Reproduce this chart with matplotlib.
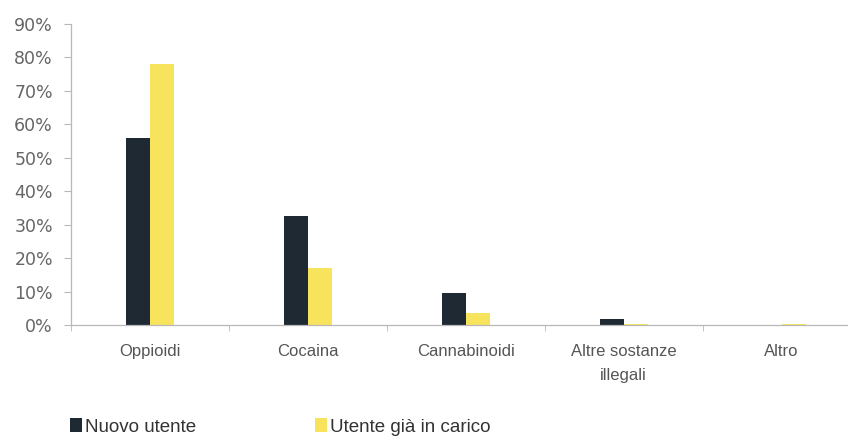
import matplotlib.pyplot as plt
import numpy as np
from matplotlib.ticker import FuncFormatter, FixedLocator

categories = ['Oppioidi', 'Cocaina', 'Cannabinoidi', 'Altre sostanze\nillegali', 'Altro']
nuovo = [0.56, 0.327, 0.097, 0.017, 0.0]
in_carico = [0.78, 0.17, 0.035, 0.003, 0.004]
series_labels = ['Nuovo utente', 'Utente già in carico']

DARK = '#1e2933'
YELLOW = '#f8e35c'


def to_percent(y, position):
    return "{:.0f}%".format(y * 100)


def main():
    plt.rcParams['font.family'] = ['Liberation Sans', 'DejaVu Sans']

    fig = plt.figure(figsize=(8.48, 4.36), dpi=100)
    ax = fig.add_axes([71 / 848, 111 / 436, 777 / 848, 301 / 436])

    x = np.arange(len(categories))
    w = 0.152
    b1 = ax.bar(x - w / 2, nuovo, w, color=DARK, label=series_labels[0])
    b2 = ax.bar(x + w / 2, in_carico, w, color=YELLOW, label=series_labels[1])

    ax.set_xlim(-0.5, 4.42)
    ax.set_ylim(0, 0.9)
    ax.yaxis.set_major_locator(FixedLocator(np.arange(0, 0.91, 0.1)))
    ax.yaxis.set_major_formatter(FuncFormatter(to_percent))
    for lbl in ax.get_yticklabels():
        lbl.set_family('DejaVu Sans')

    # category labels centred, tick marks on the boundaries
    ax.set_xticks(x)
    ax.set_xticklabels(categories, fontsize=12, color='#555555', linespacing=1.75)
    ax.tick_params(axis='x', length=0, pad=14)
    ax.set_xticks(np.arange(-0.5, 4.5, 1.0), minor=True)
    ax.tick_params(axis='x', which='minor', length=4, color='#b8b8b8')
    ax.tick_params(axis='y', length=5, color='#b8b8b8', labelsize=12.5,
                   labelcolor='#666666', pad=8)

    for side in ['top', 'right']:
        ax.spines[side].set_visible(False)
    for side in ['left', 'bottom']:
        ax.spines[side].set_color('#b8b8b8')
        ax.spines[side].set_linewidth(0.9)

    fig.legend(handles=[b1, b2], loc='center left', ncol=2,
               bbox_to_anchor=(53 / 848, 9 / 436), frameon=False,
               fontsize=13.5, handlelength=0.65, handleheight=0.7,
               handletextpad=0.15, columnspacing=6.35, labelcolor='#333333')

    plt.savefig('out.png', dpi=100)


if __name__ == '__main__':
    main()
